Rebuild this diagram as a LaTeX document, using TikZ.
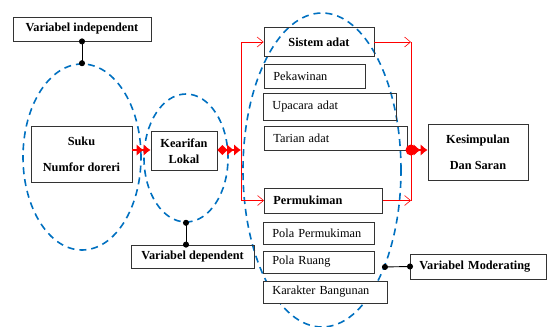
\documentclass[tikz,border=0pt]{standalone}
\usepackage{fontspec}
\setmainfont{Liberation Serif}
\usepackage{xcolor}
\usetikzlibrary{arrows.meta,positioning,calc,shapes.geometric}
\definecolor{dashblue}{RGB}{0,112,192}

\begin{document}
\begin{tikzpicture}[x=1pt, y=-1pt, font=\fontsize{12.3}{14.8}\selectfont,
  box/.style={draw=black!80, line width=0.8pt, inner sep=0pt},
  head/.style={box, align=center, font=\fontsize{12.3}{14.8}\selectfont\bfseries},
  item/.style={box, anchor=west, align=left, inner xsep=9pt},
  itemb/.style={item, font=\fontsize{12.3}{14.8}\selectfont\bfseries},
  grp/.style={ellipse, draw=dashblue, line width=1.6pt, dash pattern=on 7pt off 5pt, inner sep=0pt},
  pin/.style={line width=0.9pt, {Circle[length=6pt]}-{Circle[length=6pt]}, shorten <=-3pt, shorten >=-3pt},
  fat/.style={draw=red, line width=2.6pt},
  link/.style={draw=red, line width=0.6pt, -{Straight Barb[length=6pt,width=10pt]}},
  dbl/.tip={Latex[length=7pt,width=12pt] Latex[length=7pt,width=12pt]}]
\useasboundingbox (0,0) rectangle (547,327);
% dashed groups
\node[grp, minimum width=118, minimum height=186] (gSuku) at (82,157) {};
\node[grp, minimum width=84, minimum height=128] (gKear) at (186,158) {};
\node[grp, minimum width=158, minimum height=314] (gAdat) at (322,170) {};
% main boxes
\node[head, minimum width=138, minimum height=24] (indep) at (82,29) {Variabel independent};
\node[head, minimum width=101, minimum height=56] (suku) at (81.5,154) {Suku\\[11pt]Numfor doreri};
\node[head, minimum width=66, minimum height=39] (kear) at (184,151) {Kearifan\\[1pt]Lokal};
\node[head, minimum width=123, minimum height=23] (dep) at (192.5,256.5) {Variabel dependent};
\node[head, minimum width=100, minimum height=56] (kes) at (478,152) {Kesimpulan\\[11pt]Dan Saran};
\node[itemb, minimum height=25, text width=118pt] (mod) at (410,266.5) {Variabel Moderating};
% sistem adat column
\node[head, minimum width=110, minimum height=29] (sis) at (319,42) {Sistem adat};
\node[item, minimum height=24, text width=83pt] (kaw) at (264,76) {Pekawinan};
\node[item, minimum height=27, text width=115pt] (upa) at (263,106.5) {Upacara adat};
\node[item, minimum height=24, text width=125pt] (tar) at (264,138) {Tarian adat};
% permukiman column
\node[itemb, minimum height=25, text width=100pt] (perm) at (264,200.5) {Permukiman};
\node[item, minimum height=22, text width=93pt] (ppm) at (263,233) {Pola Permukiman};
\node[item, minimum height=22, text width=93pt] (pru) at (263,262) {Pola Ruang};
\node[item, fill=white, minimum height=22, text width=106pt] (kar) at (263,292) {Karakter Bangunan};
% variable pins
\draw[pin] (indep.south) -- (gSuku.north);
\draw[pin] (gKear.south) -- (gKear.south |- dep.north);
\draw[pin] (mod.west) -- (gAdat.-57);
% red flow
\coordinate (split) at (241,150);
\coordinate (merge) at (411,150);
\draw[fat, -{dbl}] (split -| suku.east) -- (split -| kear.west);
\draw[fat, {Diamond[length=10pt,width=10pt]}-{dbl}] (split -| kear.east) -- (split);
\draw[link] (split) |- (sis.west);
\draw[link] (split) |- (perm.west);
\draw[link] (sis.east) -- (sis.east -| merge);
\draw[link] (perm.east) -- (perm.east -| merge);
\draw[red, line width=0.6pt] (sis.east -| merge) -- (perm.east -| merge);
\fill[red] (merge) circle[radius=5.5];
\draw[fat, -{dbl}] (merge) -- (merge -| kes.west);
\end{tikzpicture}
\end{document}
